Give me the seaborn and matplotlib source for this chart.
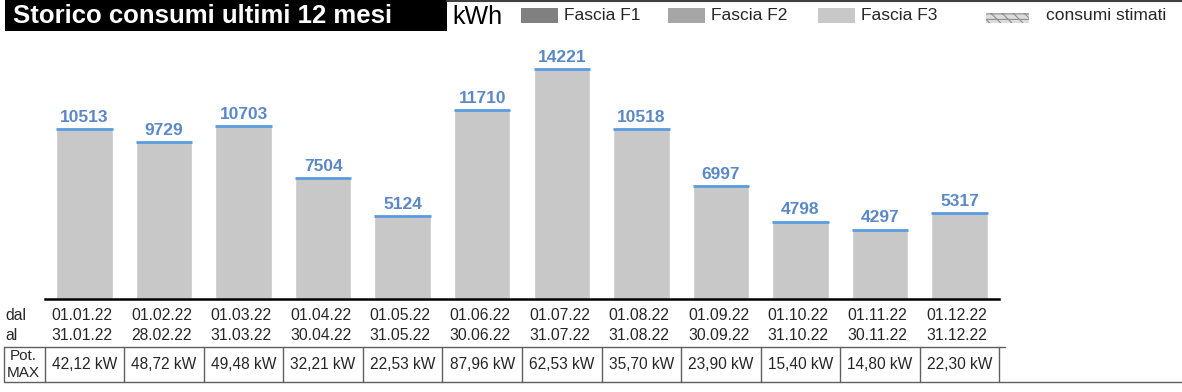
import matplotlib
matplotlib.use("Agg")
import matplotlib.pyplot as plt
from matplotlib.patches import Rectangle
from matplotlib.transforms import blended_transform_factory
import seaborn as sns
import pandas as pd

# ===============================
# DATA
# ===============================
dal = ["01.01.22", "01.02.22", "01.03.22", "01.04.22", "01.05.22", "01.06.22",
       "01.07.22", "01.08.22", "01.09.22", "01.10.22", "01.11.22", "01.12.22"]
al = ["31.01.22", "28.02.22", "31.03.22", "30.04.22", "31.05.22", "30.06.22",
      "31.07.22", "31.08.22", "30.09.22", "31.10.22", "30.11.22", "31.12.22"]
consumi_kwh = [10513, 9729, 10703, 7504, 5124, 11710, 14221, 10518, 6997, 4798, 4297, 5317]
pot_max = ["42,12 kW", "48,72 kW", "49,48 kW", "32,21 kW", "22,53 kW", "87,96 kW",
           "62,53 kW", "35,70 kW", "23,90 kW", "15,40 kW", "14,80 kW", "22,30 kW"]

legend_labels = ["Fascia F1", "Fascia F2", "Fascia F3"]
legend_colors = ["#808080", "#a6a6a6", "#c8c8c8"]

title = "Storico consumi ultimi 12 mesi"

# ===============================
# STYLE
# ===============================
sns.set_style("white")
plt.rcParams['font.family'] = ['Liberation Sans', 'DejaVu Sans']
plt.rcParams['hatch.color'] = "#6a6a6a"
plt.rcParams['hatch.linewidth'] = 0.8

W, H = 1182, 392
fig = plt.figure(figsize=(W / 100, H / 100), dpi=100)


def fx(x):
    return x / W


def fy(y):
    return 1 - y / H


# axes area (pixels): x 44.7 -> 999.3, y 40.6 -> 299
ax = fig.add_axes([fx(44.7), fy(299), fx(999.3) - fx(44.7), (299 - 40.6) / H])

df = pd.DataFrame({"periodo": dal, "kWh": consumi_kwh})
sns.barplot(data=df, x="periodo", y="kWh", color="#c8c8c8", width=0.71,
            saturation=1, ax=ax)

ax.set_xlim(-0.5, len(dal) - 0.5)
ax.set_ylim(0, 16000)
ax.set_xticks([])
ax.set_yticks([])
ax.set_xlabel("")
ax.set_ylabel("")
for s in ["top", "left", "right"]:
    ax.spines[s].set_visible(False)
ax.spines["bottom"].set_linewidth(1.8)
ax.spines["bottom"].set_color("black")

# blue cap line + value labels
for p in ax.patches:
    h = p.get_height()
    x0 = p.get_x()
    w = p.get_width()
    ax.plot([x0, x0 + w], [h, h], color="#5b9be0", lw=2, solid_capstyle="butt")
    ax.annotate(f"{int(round(h))}", (x0 + w / 2, h), xytext=(0, 3),
                textcoords="offset points", ha="center", va="bottom",
                fontsize=12.5, fontweight="bold", color="#5a88c8")

# ===============================
# HEADER: title box, unit, legend
# ===============================
fig.add_artist(Rectangle((fx(5), fy(31)), fx(447) - fx(5), 31 / H,
                         transform=fig.transFigure, color="black", lw=0))
fig.text(fx(13), fy(16), title, color="white", fontsize=18.5,
         fontweight="bold", va="center", ha="left")
fig.text(fx(452), fy(17), "kWh", color="black", fontsize=18, va="center", ha="left")
fig.add_artist(plt.Line2D([fx(447), 1], [fy(1), fy(1)], color="#404040", lw=1.5,
                          transform=fig.transFigure))

leg_x = [521, 668, 818]
for lx, lab, col in zip(leg_x, legend_labels, legend_colors):
    fig.add_artist(Rectangle((fx(lx), fy(23)), 37 / W, 15 / H,
                             transform=fig.transFigure, color=col, lw=0))
    fig.text(fx(lx + 43), fy(16), lab, fontsize=12.5, va="center", ha="left")

fig.add_artist(Rectangle((fx(986), fy(23)), 43 / W, 10 / H,
                         transform=fig.transFigure, facecolor="#dcdcdc",
                         edgecolor="#909090", lw=0, hatch="\\\\\\---"))
fig.text(fx(1046), fy(16), "consumi stimati", fontsize=12.5, va="center", ha="left")

# ===============================
# TABLE BELOW THE BARS
# ===============================
tr = blended_transform_factory(ax.transData, fig.transFigure)
fig.text(fx(5), fy(316), "dal", fontsize=11.3, va="center", ha="left")
fig.text(fx(5), fy(335), "al", fontsize=11.3, va="center", ha="left")
for i, (d1, d2, pm) in enumerate(zip(dal, al, pot_max)):
    ax.text(i - 0.03, fy(316), d1, transform=tr, fontsize=11.3, va="center", ha="center", clip_on=False)
    ax.text(i - 0.03, fy(335), d2, transform=tr, fontsize=11.3, va="center", ha="center", clip_on=False)
    ax.text(i, fy(364.5), pm, transform=tr, fontsize=11.2, va="center", ha="center", clip_on=False)

line_col = "#606060"
top_y, bot_y = fy(347), fy(382)
fig.add_artist(plt.Line2D([fx(4), fx(1005)], [top_y, top_y], color=line_col, lw=1,
                          transform=fig.transFigure))
fig.add_artist(plt.Line2D([fx(4), 1], [bot_y, bot_y], color=line_col, lw=1,
                          transform=fig.transFigure))
fig.add_artist(plt.Line2D([fx(4), fx(4)], [top_y, bot_y], color=line_col, lw=1,
                          transform=fig.transFigure))
for k in range(len(dal) + 1):
    ax.add_artist(plt.Line2D([k - 0.5, k - 0.5], [top_y, bot_y], color=line_col, lw=1,
                             transform=tr, clip_on=False))
fig.text(fx(23), fy(356), "Pot.", fontsize=11, va="center", ha="center")
fig.text(fx(23), fy(373), "MAX", fontsize=11, va="center", ha="center")

fig.savefig("out.png", dpi=100)
